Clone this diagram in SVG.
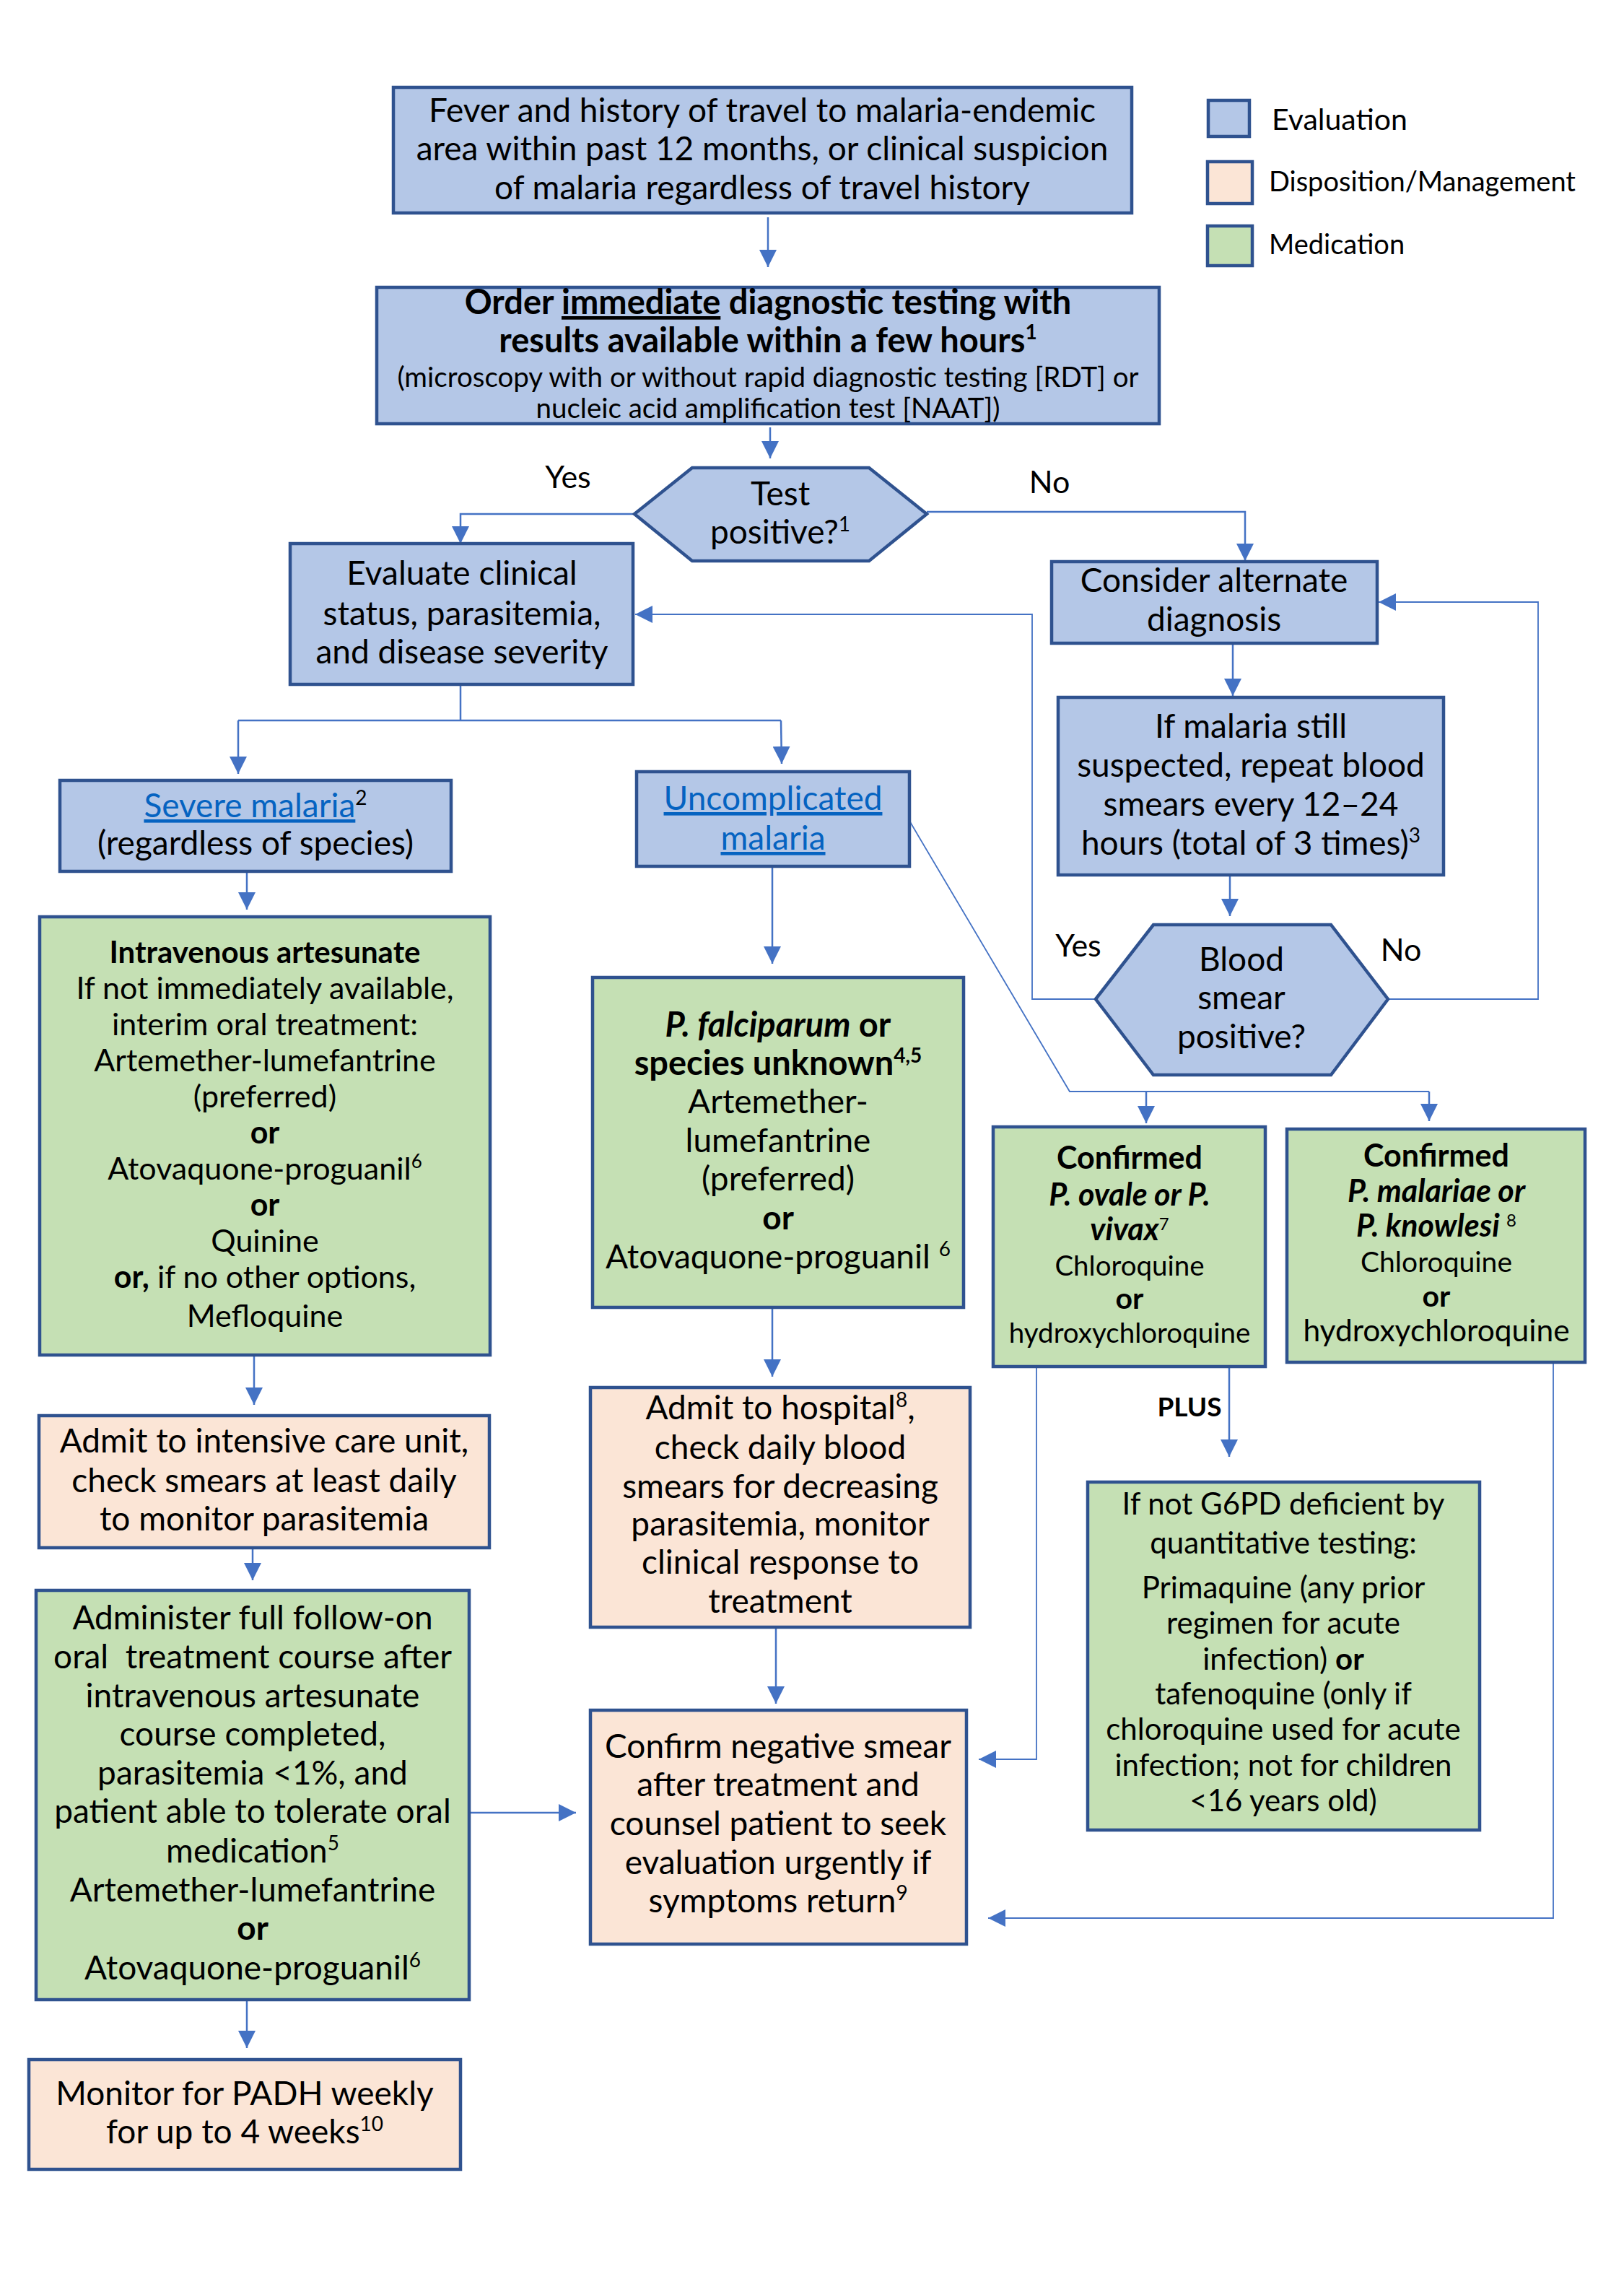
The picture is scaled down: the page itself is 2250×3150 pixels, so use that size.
<svg xmlns="http://www.w3.org/2000/svg" width="2250" height="3150" viewBox="0 0 2250 3150">
<style>
.eval{fill:#B4C7E7;stroke:#2F528F;stroke-width:4.5}
.disp{fill:#FBE5D6;stroke:#2F528F;stroke-width:4.5}
.med{fill:#C5E0B4;stroke:#2F528F;stroke-width:4.5}
text{font-family:Lato,"Liberation Sans",sans-serif;fill:#000;text-anchor:middle}
.s46{font-size:46px}
.s47{font-size:47px}
.s43{font-size:43px}
.s42{font-size:42px}
.b{font-weight:bold}
.i{font-style:italic}
.lnk{fill:#0563C1;text-decoration:underline}
.conn{fill:none;stroke:#4472C4;stroke-width:2.5}
.thin{fill:none;stroke:#4472C4;stroke-width:1.8}
.lg{text-anchor:start}
</style>
<defs>
<marker id="arr" viewBox="0 0 24 24" refX="24" refY="12" markerWidth="24" markerHeight="24" markerUnits="userSpaceOnUse" orient="auto">
<path d="M0,0 L24,12 L0,24 Z" fill="#4472C4"/>
</marker>
</defs>
<rect width="2250" height="3150" fill="#fff"/>

<g id="legend">
<rect class="eval" x="1674" y="139" width="57" height="50"/>
<text class="lg" x="1762" y="180" font-size="41">Evaluation</text>
<rect class="disp" x="1673" y="224" width="62" height="58"/>
<text class="lg" x="1758" y="265" font-size="38">Disposition/Management</text>
<rect class="med" x="1673" y="313" width="62" height="55"/>
<text class="lg" x="1758" y="352" font-size="38">Medication</text>
</g>

<g id="connectors">
<path class="conn" d="M1064,301 L1064,370" marker-end="url(#arr)"/>
<path class="conn" d="M1067,592 L1067,635" marker-end="url(#arr)"/>
<path class="conn" d="M879,712 L638,712 L638,753" marker-end="url(#arr)"/>
<path class="conn" d="M1284,709 L1725,709 L1725,777" marker-end="url(#arr)"/>
<path class="conn" d="M638,948 L638,998"/>
<path class="conn" d="M330,998 L1082,998"/>
<path class="conn" d="M330,998 L330,1072" marker-end="url(#arr)"/>
<path class="conn" d="M1082,998 L1083,1058" marker-end="url(#arr)"/>
<path class="conn" d="M342,1207 L342,1260" marker-end="url(#arr)"/>
<path class="conn" d="M352,1877 L352,1946" marker-end="url(#arr)"/>
<path class="conn" d="M350,2144 L350,2189" marker-end="url(#arr)"/>
<path class="conn" d="M342,2770 L342,2837" marker-end="url(#arr)"/>
<path class="conn" d="M650,2511 L798,2511" marker-end="url(#arr)"/>
<path class="conn" d="M1070,1200 L1070,1335" marker-end="url(#arr)"/>
<path class="conn" d="M1070,1811 L1070,1907" marker-end="url(#arr)"/>
<path class="conn" d="M1075,2254 L1075,2360" marker-end="url(#arr)"/>
<path class="conn" d="M1708,891 L1708,964" marker-end="url(#arr)"/>
<path class="conn" d="M1704,1212 L1704,1269" marker-end="url(#arr)"/>
<path class="thin" d="M1518,1384 L1430,1384 L1430,851 L880,851" marker-end="url(#arr)"/>
<path class="thin" d="M1923,1384 L2131,1384 L2131,834 L1910,834" marker-end="url(#arr)"/>
<path class="thin" d="M1260,1137 L1482,1512 L1980,1512"/>
<path class="conn" d="M1588,1512 L1588,1556" marker-end="url(#arr)"/>
<path class="conn" d="M1980,1512 L1980,1553" marker-end="url(#arr)"/>
<path class="thin" d="M1436,1893 L1436,2437 L1356,2437" marker-end="url(#arr)"/>
<path class="conn" d="M1703,1893 L1703,2018" marker-end="url(#arr)"/>
<path class="thin" d="M2152,1887 L2152,2657 L1369,2657" marker-end="url(#arr)"/>
</g>

<g id="labels">
<text x="787" y="676" font-size="43">Yes</text>
<text x="1454" y="683" font-size="43">No</text>
<text x="1494" y="1325" font-size="43">Yes</text>
<text x="1941" y="1331" font-size="43">No</text>
<text class="b" x="1648" y="1962" font-size="37">PLUS</text>
</g>

<g id="n-fever">
<rect class="eval" x="545" y="121" width="1023" height="174"/>
<text class="s46" x="1056" y="169">Fever and history of travel to malaria-endemic</text>
<text class="s46" x="1056" y="222">area within past 12 months, or clinical suspicion</text>
<text class="s46" x="1056" y="276">of malaria regardless of travel history</text>
</g>

<g id="n-order">
<rect class="eval" x="522" y="398" width="1084" height="189"/>
<text class="b" x="1064" y="435" font-size="47">Order <tspan text-decoration="underline">immediate</tspan> diagnostic testing with</text>
<text class="b" x="1064" y="488" font-size="47">results available within a few hours<tspan dy="-18" font-size="28">1</tspan></text>
<text x="1064" y="536" font-size="38.5">(microscopy with or without rapid diagnostic testing [RDT] or</text>
<text x="1064" y="579" font-size="38.5">nucleic acid amplification test [NAAT])</text>
</g>

<g id="n-test">
<polygon class="eval" points="879,712 959,648 1204,648 1284,712 1204,777 959,777"/>
<text class="s46" x="1081" y="700">Test</text>
<text class="s46" x="1081" y="753">positive?<tspan dy="-17" font-size="28">1</tspan></text>
</g>

<g id="n-evaluate">
<rect class="eval" x="402" y="753" width="475" height="195"/>
<text class="s46" x="640" y="810">Evaluate clinical</text>
<text class="s46" x="640" y="866">status, parasitemia,</text>
<text class="s46" x="640" y="919">and disease severity</text>
</g>

<g id="n-consider">
<rect class="eval" x="1457" y="778" width="451" height="113"/>
<text class="s46" x="1682" y="820">Consider alternate</text>
<text class="s46" x="1682" y="874">diagnosis</text>
</g>

<g id="n-repeat">
<rect class="eval" x="1466" y="966" width="534" height="246"/>
<text class="s46" x="1733" y="1022">If malaria still</text>
<text class="s46" x="1733" y="1076">suspected, repeat blood</text>
<text class="s46" x="1733" y="1130">smears every 12–24</text>
<text class="s46" x="1733" y="1184">hours (total of 3 times)<tspan dy="-17" font-size="28">3</tspan></text>
</g>

<g id="n-blood">
<polygon class="eval" points="1518,1384 1598,1281 1844,1281 1923,1384 1844,1489 1598,1489"/>
<text class="s46" x="1720" y="1345">Blood</text>
<text class="s46" x="1720" y="1398">smear</text>
<text class="s46" x="1720" y="1452">positive?</text>
</g>

<g id="n-severe">
<rect class="eval" x="83" y="1081" width="542" height="126"/>
<text class="s46" x="354" y="1132"><tspan class="lnk">Severe malaria</tspan><tspan dy="-17" font-size="28">2</tspan></text>
<text class="s46" x="354" y="1184">(regardless of species)</text>
</g>

<g id="n-uncomplicated">
<rect class="eval" x="882" y="1069" width="378" height="131"/>
<text class="s46 lnk" x="1071" y="1122">Uncomplicated</text>
<text class="s46 lnk" x="1071" y="1177">malaria</text>
</g>

<g id="n-iv">
<rect class="med" x="55" y="1270" width="624" height="607"/>
<text class="b" x="367" y="1334" font-size="42">Intravenous artesunate</text>
<text class="s43" x="367" y="1384">If not immediately available,</text>
<text class="s43" x="367" y="1434">interim oral treatment:</text>
<text class="s43" x="367" y="1484">Artemether-lumefantrine</text>
<text class="s43" x="367" y="1534">(preferred)</text>
<text class="s43 b" x="367" y="1584">or</text>
<text class="s43" x="367" y="1634">Atovaquone-proguanil<tspan dy="-16" font-size="26">6</tspan></text>
<text class="s43 b" x="367" y="1684">or</text>
<text class="s43" x="367" y="1734">Quinine</text>
<text class="s43" x="367" y="1784"><tspan class="b">or,</tspan> if no other options,</text>
<text class="s43" x="367" y="1838">Mefloquine</text>
</g>

<g id="n-pfalc">
<rect class="med" x="821" y="1354" width="514" height="457"/>
<text class="s47 b" x="1078" y="1436"><tspan class="i">P. falciparum</tspan> or</text>
<text class="s47 b" x="1078" y="1489">species unknown<tspan dy="-17" font-size="28">4,5</tspan></text>
<text class="s46" x="1078" y="1542">Artemether-</text>
<text class="s46" x="1078" y="1596">lumefantrine</text>
<text class="s46" x="1078" y="1649">(preferred)</text>
<text class="s46 b" x="1078" y="1703">or</text>
<text class="s46" x="1078" y="1757">Atovaquone-proguanil <tspan dy="-17" font-size="28">6</tspan></text>
</g>

<g id="n-ovale">
<rect class="med" x="1376" y="1561" width="377" height="332"/>
<text class="b" x="1565" y="1619" font-size="43">Confirmed</text>
<text class="b i" x="1565" y="1670" font-size="43">P. ovale or P.</text>
<text class="b i" x="1565" y="1718" font-size="43">vivax<tspan dy="-14" font-size="24" font-weight="normal" font-style="normal">7</tspan></text>
<text x="1565" y="1767" font-size="38.5">Chloroquine</text>
<text class="b" x="1565" y="1813" font-size="41">or</text>
<text x="1565" y="1860" font-size="38.5">hydroxychloroquine</text>
</g>

<g id="n-malariae">
<rect class="med" x="1783" y="1564" width="413" height="323"/>
<text class="b" x="1990" y="1616" font-size="43">Confirmed</text>
<text class="b i" x="1990" y="1665" font-size="43">P. malariae or</text>
<text class="b i" x="1990" y="1713" font-size="43">P. knowlesi <tspan dy="-14" font-size="24" font-weight="normal" font-style="normal">8</tspan></text>
<text x="1990" y="1762" font-size="39">Chloroquine</text>
<text class="b" x="1990" y="1810" font-size="41">or</text>
<text x="1990" y="1858" font-size="42.5">hydroxychloroquine</text>
</g>

<g id="n-g6pd">
<rect class="med" x="1507" y="2053" width="543" height="482"/>
<text class="s42" x="1778" y="2098">If not G6PD deficient by</text>
<text class="s42" x="1778" y="2152">quantitative testing:</text>
<text class="s42" x="1778" y="2214">Primaquine (any prior</text>
<text class="s42" x="1778" y="2263">regimen for acute</text>
<text class="s42" x="1778" y="2313">infection) <tspan class="b">or</tspan></text>
<text class="s42" x="1778" y="2361">tafenoquine (only if</text>
<text class="s42" x="1778" y="2410">chloroquine used for acute</text>
<text class="s42" x="1778" y="2460">infection; not for children</text>
<text class="s42" x="1778" y="2509">&lt;16 years old)</text>
</g>

<g id="n-icu">
<rect class="disp" x="54" y="1961" width="624" height="183"/>
<text class="s46" x="366" y="2012">Admit to intensive care unit,</text>
<text class="s46" x="366" y="2067">check smears at least daily</text>
<text class="s46" x="366" y="2120">to monitor parasitemia</text>
</g>

<g id="n-hospital">
<rect class="disp" x="818" y="1922" width="526" height="332"/>
<text class="s46" x="1081" y="1966">Admit to hospital<tspan dy="-17" font-size="28">8</tspan><tspan dy="17">,</tspan></text>
<text class="s46" x="1081" y="2021">check daily blood</text>
<text class="s46" x="1081" y="2075">smears for decreasing</text>
<text class="s46" x="1081" y="2127">parasitemia, monitor</text>
<text class="s46" x="1081" y="2180">clinical response to</text>
<text class="s46" x="1081" y="2234">treatment</text>
</g>

<g id="n-administer">
<rect class="med" x="50" y="2203" width="600" height="567"/>
<text class="s46" x="350" y="2257">Administer full follow-on</text>
<text class="s46" x="350" y="2311" xml:space="preserve">oral  treatment course after</text>
<text class="s46" x="350" y="2365">intravenous artesunate</text>
<text class="s46" x="350" y="2418">course completed,</text>
<text class="s46" x="350" y="2472">parasitemia &lt;1%, and</text>
<text class="s46" x="350" y="2525">patient able to tolerate oral</text>
<text class="s46" x="350" y="2580">medication<tspan dy="-17" font-size="28">5</tspan></text>
<text class="s46" x="350" y="2634">Artemether-lumefantrine</text>
<text class="s46 b" x="350" y="2687">or</text>
<text class="s46" x="350" y="2742">Atovaquone-proguanil<tspan dy="-17" font-size="28">6</tspan></text>
</g>

<g id="n-confirm">
<rect class="disp" x="818" y="2369" width="521" height="324"/>
<text class="s46" x="1078" y="2435">Confirm negative smear</text>
<text class="s46" x="1078" y="2488">after treatment and</text>
<text class="s46" x="1078" y="2542">counsel patient to seek</text>
<text class="s46" x="1078" y="2596">evaluation urgently if</text>
<text class="s46" x="1078" y="2649">symptoms return<tspan dy="-17" font-size="28">9</tspan></text>
</g>

<g id="n-monitor">
<rect class="disp" x="40" y="2853" width="598" height="152"/>
<text class="s46" x="339" y="2916">Monitor for PADH weekly</text>
<text class="s46" x="339" y="2969">for up to 4 weeks<tspan dy="-17" font-size="28">10</tspan></text>
</g>
</svg>
